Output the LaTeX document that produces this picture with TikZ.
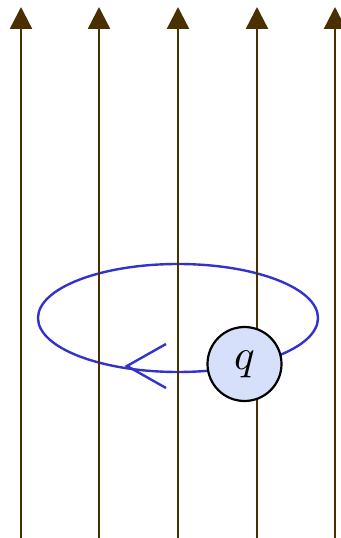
\documentclass[tikz,border=0pt]{standalone}
\usetikzlibrary{arrows.meta}
\definecolor{fieldbrown}{RGB}{74,48,0}
\definecolor{loopblue}{RGB}{51,51,204}
\definecolor{chargefill}{RGB}{214,224,250}
\tikzset{
  field/.style={draw=fieldbrown, line width=2.4pt, -{Triangle[length=22pt,width=22pt,fill=fieldbrown]}},
  loop/.style={draw=loopblue, line width=2.4pt},
  charge/.style={circle, draw=black, line width=2.2pt, fill=chargefill, minimum size=74pt, inner sep=0pt}
}
\begin{document}
\begin{tikzpicture}[x=1pt,y=1pt]
\useasboundingbox (0,0) rectangle (340,538);
% ellipse (current loop)
\coordinate (c) at (178,220);
\draw[loop] (c) ellipse [x radius=140, y radius=54];
% chevron on the loop
\coordinate (tip) at (127,172);
\coordinate (armU) at (166,194);
\coordinate (armL) at (166,150);
\draw[loop, line join=miter] (armU) -- (tip) -- (armL);
% field lines
\foreach \i/\x in {1/21,2/99,3/178,4/257,5/335}{
  \coordinate (b\i) at (\x,0);
  \coordinate (t\i) at (\x,531);
  \draw[field] (b\i) -- (t\i);
}
% charge
\node[charge] (q) at (244.5,174) {\scalebox{4.3}{$q$}};
\end{tikzpicture}
\end{document}
